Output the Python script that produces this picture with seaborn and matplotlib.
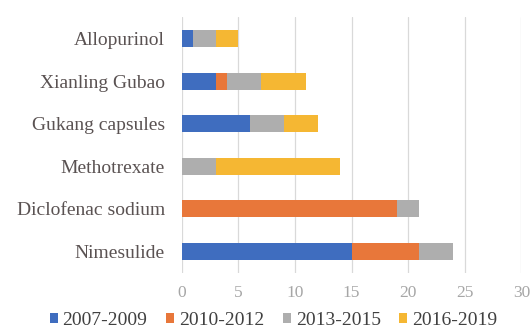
import pandas as pd
import numpy as np
import matplotlib
matplotlib.use("Agg")
import matplotlib.pyplot as plt
import seaborn as sns
from matplotlib.patches import Patch

# data
drugs = ["Allopurinol", "Xianling Gubao", "Gukang capsules",
         "Methotrexate", "Diclofenac sodium", "Nimesulide"]
periods = ["2007-2009", "2010-2012", "2013-2015", "2016-2019"]
p2007_2009 = [1, 3, 6, 0, 0, 15]
p2010_2012 = [0, 1, 0, 0, 19, 6]
p2013_2015 = [2, 3, 3, 3, 2, 3]
p2016_2019 = [2, 4, 3, 11, 0, 0]
x_ticks = [0, 5, 10, 15, 20, 25, 30]

colors = ["#3F6DBF", "#E8773A", "#AEAEAE", "#F5B733"]

sns.set_theme(style="white")
plt.rcParams['font.family'] = ['Liberation Serif', 'DejaVu Serif']

df = pd.DataFrame({"Drug": drugs,
                   periods[0]: p2007_2009, periods[1]: p2010_2012,
                   periods[2]: p2013_2015, periods[3]: p2016_2019})

# cumulative sums so that stacked bars can be drawn back to front
cum = df[periods].cumsum(axis=1)

fig = plt.figure(figsize=(5.31, 3.30), dpi=100)
ax = fig.add_axes([0.342, 0.173, 0.640, 0.775])

for i in reversed(range(len(periods))):
    sns.barplot(x=cum[periods[i]], y=df["Drug"], order=drugs,
                color=colors[i], width=0.4, saturation=1, ax=ax,
                linewidth=0)

ax.set_xlim(0, 30)
ax.set_ylim(5.5, -0.5)
ax.set_xticks(x_ticks)
ax.set_xlabel("")
ax.set_ylabel("")
ax.xaxis.grid(True, color="#d9d9d9", linewidth=0.9)
ax.set_axisbelow(True)
for s in ax.spines.values():
    s.set_visible(False)
ax.tick_params(axis="x", colors="#a6a6a6", labelsize=12.5, length=0, pad=9)
ax.tick_params(axis="y", colors="#5a5252", labelsize=14, length=0, pad=12)

handles = [Patch(facecolor=c, edgecolor="none") for c in colors]
fig.legend(handles, periods, loc="center", bbox_to_anchor=(0.515, 0.03),
           ncol=4, frameon=False, fontsize=14, handlelength=0.42,
           handleheight=0.42, handletextpad=0.25, columnspacing=0.95,
           labelcolor="#404040")

fig.savefig("out.png", dpi=100)
